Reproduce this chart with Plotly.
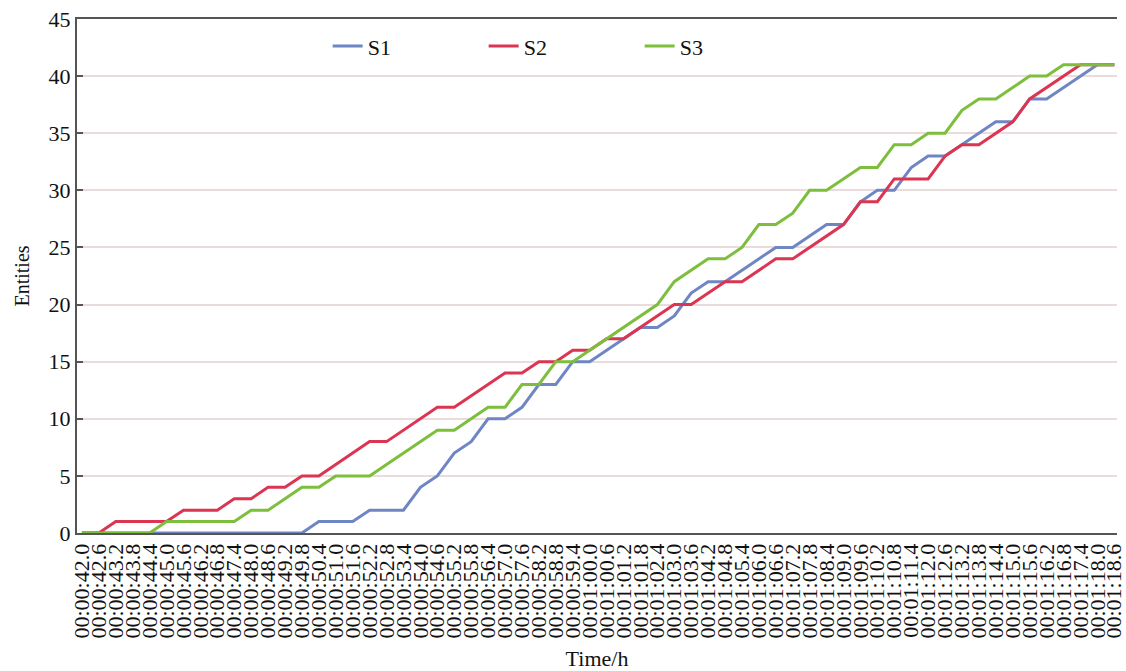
import plotly.graph_objects as go

# Simulation clock (hh:mm:ss.s) at each sample
times = [
    "00:00:42.0", "00:00:42.6", "00:00:43.2", "00:00:43.8", "00:00:44.4", "00:00:45.0",
    "00:00:45.6", "00:00:46.2", "00:00:46.8", "00:00:47.4", "00:00:48.0", "00:00:48.6",
    "00:00:49.2", "00:00:49.8", "00:00:50.4", "00:00:51.0", "00:00:51.6", "00:00:52.2",
    "00:00:52.8", "00:00:53.4", "00:00:54.0", "00:00:54.6", "00:00:55.2", "00:00:55.8",
    "00:00:56.4", "00:00:57.0", "00:00:57.6", "00:00:58.2", "00:00:58.8", "00:00:59.4",
    "00:01:00.0", "00:01:00.6", "00:01:01.2", "00:01:01.8", "00:01:02.4", "00:01:03.0",
    "00:01:03.6", "00:01:04.2", "00:01:04.8", "00:01:05.4", "00:01:06.0", "00:01:06.6",
    "00:01:07.2", "00:01:07.8", "00:01:08.4", "00:01:09.0", "00:01:09.6", "00:01:10.2",
    "00:01:10.8", "00:01:11.4", "00:01:12.0", "00:01:12.6", "00:01:13.2", "00:01:13.8",
    "00:01:14.4", "00:01:15.0", "00:01:15.6", "00:01:16.2", "00:01:16.8", "00:01:17.4",
    "00:01:18.0", "00:01:18.6",
]

# Cumulative entity counts per scenario
s1 = [0, 0, 0, 0, 0, 0, 0, 0, 0, 0, 0, 0, 0, 0, 1, 1, 1, 2, 2, 2,
      4, 5, 7, 8, 10, 10, 11, 13, 13, 15, 15, 16, 17, 18, 18, 19, 21, 22, 22, 23,
      24, 25, 25, 26, 27, 27, 29, 30, 30, 32, 33, 33, 34, 35, 36, 36, 38, 38, 39, 40,
      41, 41]
s2 = [0, 0, 1, 1, 1, 1, 2, 2, 2, 3, 3, 4, 4, 5, 5, 6, 7, 8, 8, 9,
      10, 11, 11, 12, 13, 14, 14, 15, 15, 16, 16, 17, 17, 18, 19, 20, 20, 21, 22, 22,
      23, 24, 24, 25, 26, 27, 29, 29, 31, 31, 31, 33, 34, 34, 35, 36, 38, 39, 40, 41,
      41, 41]
s3 = [0, 0, 0, 0, 0, 1, 1, 1, 1, 1, 2, 2, 3, 4, 4, 5, 5, 5, 6, 7,
      8, 9, 9, 10, 11, 11, 13, 13, 15, 15, 16, 17, 18, 19, 20, 22, 23, 24, 24, 25,
      27, 27, 28, 30, 30, 31, 32, 32, 34, 34, 35, 35, 37, 38, 38, 39, 40, 40, 41, 41,
      41, 41]

series = [("S1", s1, "#6F86C4"), ("S2", s2, "#DB3552"), ("S3", s3, "#7DBE3D")]

SERIF = "Liberation Serif, Times New Roman, serif"

fig = go.Figure()
for name, vals, color in series:
    fig.add_trace(go.Scatter(
        x=times, y=vals, name=name, mode="lines",
        line=dict(color=color, width=3),
    ))

fig.update_layout(
    width=1126, height=671,
    margin=dict(l=77, r=0, t=19, b=138),
    paper_bgcolor="white", plot_bgcolor="white",
    font=dict(family=SERIF, color="#111111", size=20),
    legend=dict(
        orientation="h", x=0.241, y=0.947, xanchor="left", yanchor="middle",
        entrywidth=111, entrywidthmode="pixels",
        font=dict(family=SERIF, size=22, color="#111111"),
        bgcolor="rgba(0,0,0,0)",
    ),
    showlegend=True,
)

fig.update_xaxes(
    type="category", range=[-0.29, 61.16],
    dtick=1, tickangle=-90,
    tickfont=dict(family=SERIF, size=22, color="#111111"),
    showgrid=False, zeroline=False,
    showline=True, linecolor="#555555", linewidth=2, mirror=True,
    ticks="",
    title=dict(text="Time/h", font=dict(family=SERIF, size=22, color="#111111"), standoff=14),
)

fig.update_yaxes(
    range=[0, 45], dtick=5, tick0=0,
    tickfont=dict(family=SERIF, size=22, color="#111111"),
    showgrid=True, gridcolor="#EBDCDC", gridwidth=2,
    zeroline=False,
    showline=True, linecolor="#555555", linewidth=2,
    ticks="inside", ticklen=6, tickcolor="#555555", tickwidth=2,
    title=dict(text="Entities", font=dict(family=SERIF, size=20, color="#111111"), standoff=14),
)

fig.write_html("out.html")
